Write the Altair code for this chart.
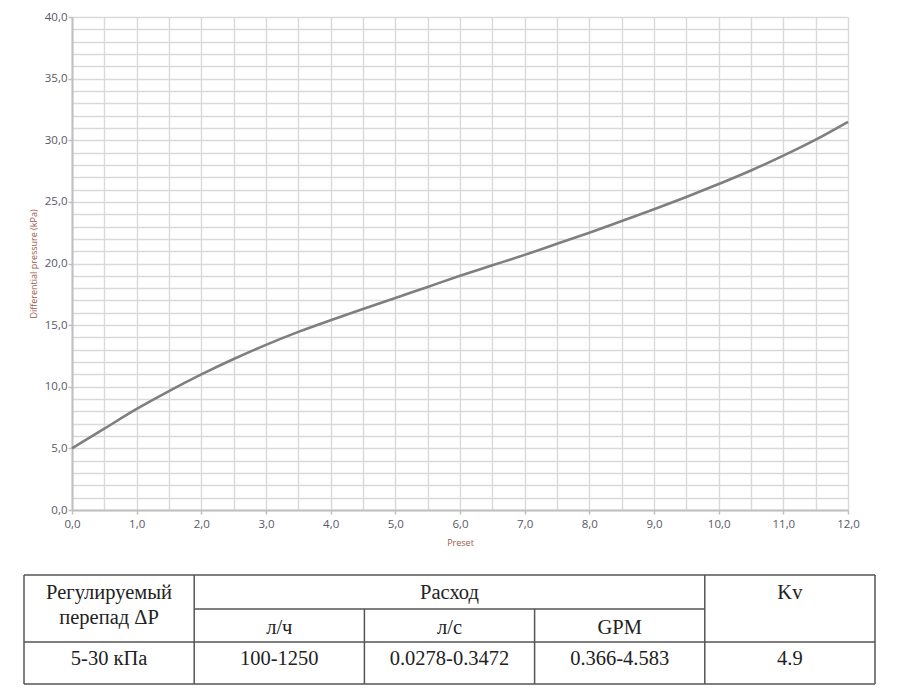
import altair as alt
import pandas as pd

# curve (preset -> differential pressure, kPa)
preset = [0, 0.5, 1, 1.5, 2, 2.5, 3, 3.5, 4, 4.5, 5, 5.5, 6,
          6.5, 7, 7.5, 8, 8.5, 9, 9.5, 10, 10.5, 11, 11.5, 12]
pressure = [5.0, 6.6, 8.2, 9.65, 11.0, 12.25, 13.4, 14.45, 15.4, 16.3, 17.2, 18.1, 19.0,
            19.85, 20.7, 21.6, 22.5, 23.45, 24.4, 25.4, 26.45, 27.55, 28.75, 30.05, 31.5]

x_labels = [0, 1, 2, 3, 4, 5, 6, 7, 8, 9, 10, 11, 12]
y_labels = [0, 5, 10, 15, 20, 25, 30, 35, 40]
x_grid = [v / 2 for v in range(25)]
y_grid = list(range(41))

# table below the chart
head_row = ["Регулируемый", "перепад ΔP", "Расход", "Kv"]
sub_row = ["л/ч", "л/с", "GPM"]
data_row = ["5-30 кПа", "100-1250", "0.0278-0.3472", "0.366-4.583", "4.9"]

LABEL_EXPR = "replace(format(datum.value, '.1f'), '.', ',')"
LABEL_COLOR = "#585868"
TITLE_COLOR = "#9c5b4a"
GRID = "#d9d9d9"

curve = pd.DataFrame({"preset": preset, "pressure": pressure})
xs = alt.Scale(domain=[0, 12], nice=False)
ys = alt.Scale(domain=[0, 40], nice=False)

grid_layer = alt.Chart(curve).mark_line(strokeOpacity=0).encode(
    x=alt.X("preset:Q", scale=xs, axis=alt.Axis(
        orient="bottom", values=x_grid, grid=True, gridColor=GRID, gridWidth=1.4,
        labels=False, ticks=False, domain=False, title=None)),
    y=alt.Y("pressure:Q", scale=ys, axis=alt.Axis(
        orient="left", values=y_grid, grid=True, gridColor=GRID, gridWidth=1.4,
        labels=False, ticks=False, domain=False, title=None)),
)

line_layer = alt.Chart(curve).mark_line(
    color="#7f7f7f", strokeWidth=2.6, interpolate="monotone"
).encode(
    x=alt.X("preset:Q", scale=xs, axis=alt.Axis(
        orient="bottom", values=x_labels, grid=False, labelExpr=LABEL_EXPR,
        labelFont="Open Sans", labelFontSize=11.5, labelColor=LABEL_COLOR,
        labelFlush=False, labelPadding=4, tickSize=4, tickColor="#bfbfbf", tickWidth=1.5,
        domainColor="#bfbfbf", domainWidth=2, title="Preset",
        titleFont="Open Sans", titleFontSize=9, titleFontWeight="normal",
        titleColor=TITLE_COLOR, titlePadding=9)),
    y=alt.Y("pressure:Q", scale=ys, axis=alt.Axis(
        orient="left", values=y_labels, grid=False, labelExpr=LABEL_EXPR,
        labelFont="Open Sans", labelFontSize=11.5, labelColor=LABEL_COLOR,
        labelPadding=1, tickSize=4, tickColor="#bfbfbf", tickWidth=1.5,
        domainColor="#bfbfbf", domainWidth=2, title="Differential pressure (kPa)",
        titleFont="Open Sans", titleFontSize=9, titleFontWeight="normal",
        titleColor=TITLE_COLOR, titlePadding=6)),
)

plot = alt.layer(grid_layer, line_layer).resolve_axis(
    x="independent", y="independent"
).properties(width=776, height=493)

# table layout: five equal columns, row edges in table units
row_edges = [0, 34, 67, 109]
segments = pd.DataFrame({
    "x": [0, 1, 0, 0, 0, 1, 2, 3, 4, 5],
    "x2": [5, 4, 5, 5, 0, 1, 2, 3, 4, 5],
    "y": [row_edges[0], row_edges[1], row_edges[2], row_edges[3],
          row_edges[0], row_edges[0], row_edges[1], row_edges[1], row_edges[0], row_edges[0]],
    "y2": [row_edges[0], row_edges[1], row_edges[2], row_edges[3],
           row_edges[3], row_edges[3], row_edges[3], row_edges[3], row_edges[3], row_edges[3]],
})
cells = pd.DataFrame({
    "label": head_row + sub_row + data_row,
    "cx": [0.5, 0.5, 2.5, 4.5] + [1.5, 2.5, 3.5] + [0.5, 1.5, 2.5, 3.5, 4.5],
    "cy": [18, 43, 18, 18] + [53, 53, 53] + [84] * 5,
})

tx = alt.Scale(domain=[0, 5], range=[-48, 803])
ty = alt.Scale(domain=[0, row_edges[-1]], range=[0, row_edges[-1]])

rules = alt.Chart(segments).mark_rule(color="#555555", strokeWidth=1.5).encode(
    x=alt.X("x:Q", scale=tx, axis=None),
    x2="x2:Q",
    y=alt.Y("y:Q", scale=ty, axis=None),
    y2="y2:Q",
)
texts = alt.Chart(cells).mark_text(
    font="Liberation Serif", fontSize=20.5, color="#222222", baseline="middle", align="center"
).encode(
    x=alt.X("cx:Q", scale=tx, axis=None),
    y=alt.Y("cy:Q", scale=ty, axis=None),
    text="label:N",
)
table = alt.layer(rules, texts).properties(width=776, height=row_edges[-1])

chart = alt.vconcat(plot, table, spacing=26).properties(
    padding={"left": 15, "top": 3, "right": 5, "bottom": 5}
).configure_view(stroke=None)

chart.save("out.html", embed_options={"renderer": "svg", "actions": False})
